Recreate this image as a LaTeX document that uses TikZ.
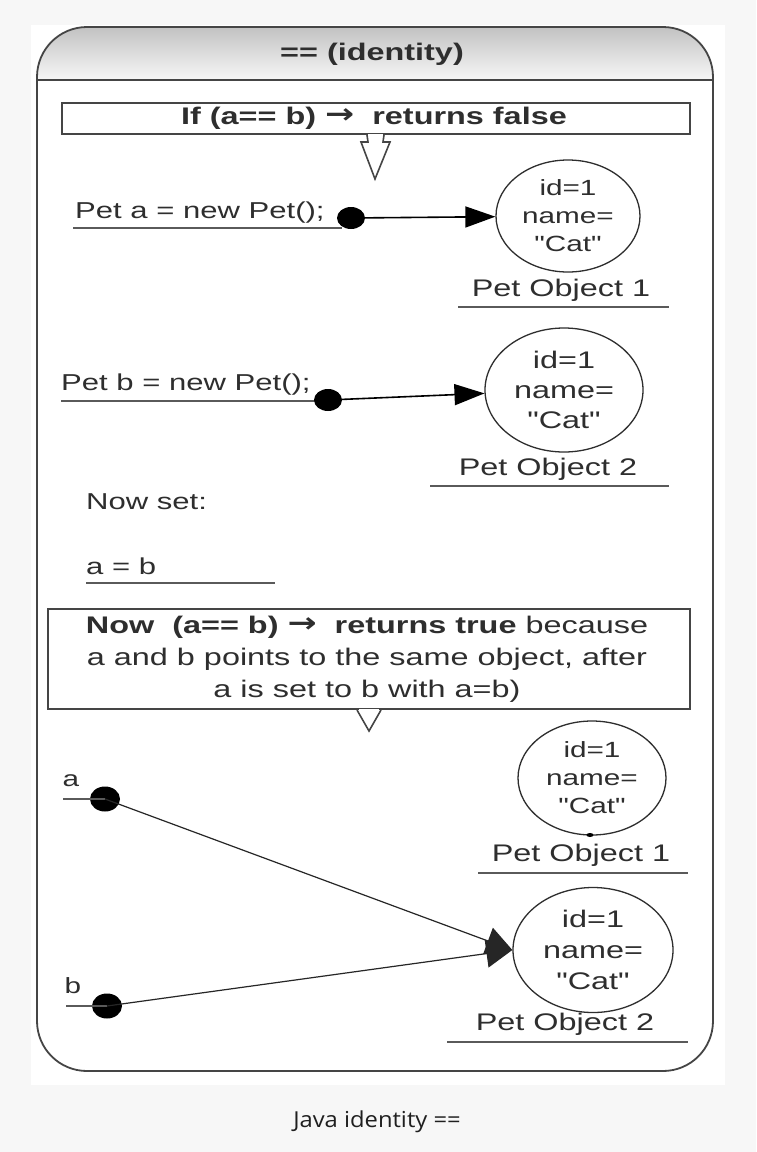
\documentclass[tikz,border=0pt]{standalone}
\usepackage{fontspec}
\setmainfont{Liberation Sans}[FakeStretch=1.35]
\newfontfamily\qfont{Liberation Sans}[FakeStretch=1.35]
\newfontfamily\arrfont{DejaVu Sans}
\newfontfamily\capfont{Open Sans}[FakeStretch=1.08]
\newcommand{\qq}{{\qfont"}}
\newcommand{\rarr}{\raisebox{0.5pt}{\scalebox{1.45}[1.15]{\arrfont\bfseries →}}}
\usetikzlibrary{shapes.geometric,arrows.meta,calc}
\definecolor{pagebg}{HTML}{F7F7F7}
\definecolor{ink}{HTML}{2E2E2E}
\definecolor{frameink}{HTML}{454545}
\definecolor{ulink}{HTML}{5A5A5A}
\begin{document}
\begin{tikzpicture}[x=1pt,y=-1pt,
  txt/.style={font=\fontsize{23}{28}\selectfont, text=ink, inner sep=0},
  btxt/.style={font=\bfseries\fontsize{24}{29}\selectfont, text=ink, inner sep=0},
  obj/.style={ellipse, draw=ink, line width=1.3, align=center, inner sep=0, font=\fontsize{23}{29}\selectfont, text=ink},
  objs/.style={obj, font=\fontsize{22}{28}\selectfont},
  dotnode/.style={ellipse, fill=black, minimum width=28, minimum height=22, inner sep=0},
  uline/.style={draw=ulink, line width=2.5},
  ptr/.style={-{Triangle[length=30pt,width=21pt]}, line width=1.6, draw=black},
  thinptr/.style={-{Triangle[length=26pt,width=28pt]}, line width=1.2, draw=black!85},
  boxnode/.style={draw=frameink, line width=2, fill=white, inner sep=0},
  pointer/.style={draw=frameink, line width=1.6, fill=white, line join=miter}
]
\fill[pagebg] (0,0) rectangle (756,1152);
\useasboundingbox (0,0) rectangle (756,1152);
\fill[white] (31,25) rectangle (725,1085);
% header shading
\begin{scope}
  \clip[rounded corners=50] (37,27) rectangle (713,1071);
  \shade[top color=black!24, bottom color=black!3] (37,27) rectangle (713,80);
\end{scope}
\draw[frameink, line width=1.8, rounded corners=50] (37,27) rectangle (713,1071);
\draw[frameink, line width=1.8] (37,80) -- (713,80);
\node[btxt] (title) at (372,54) {== (identity)};

% box 1
\node[boxnode, minimum width=628, minimum height=31] (b1) at (376,118.5) {};
\node[btxt] (b1t) at (374,118) {If (a== b) \rarr\ \ returns false};
\draw[pointer] ($(b1.south)+(-9,0)$) -- ($(b1.south)+(-8,7)$) -- ($(b1.south)+(-15,7)$) -- ($(b1.south)+(-1,44)$) -- ($(b1.south)+(14,7)$) -- ($(b1.south)+(7,7)$) -- ($(b1.south)+(8,0)$);
\draw[white, line width=2.4] ($(b1.south)+(-8,0)$) -- ($(b1.south)+(7,0)$);

% row 1
\node[txt, anchor=west] (pa) at (75,213) {Pet a = new Pet();};
\draw[uline] (73,228) -- (342,228);
\node[objs, minimum width=144, minimum height=112] (c1) at (568,216) {id=1\\name=\\\qq Cat\qq};
\node[dotnode] (da) at (351,218) {};
\draw[ptr] (da.center) -- (c1);
\node[txt, font=\fontsize{24}{29}\selectfont] (l1) at (561,290) {Pet Object 1};
\draw[uline] (458,307) -- (669,307);

% row 2
\node[txt, anchor=west] (pb) at (61,385) {Pet b = new Pet();};
\draw[uline] (61,401) -- (338,401);
\node[obj, font=\fontsize{24}{30}\selectfont, minimum width=158, minimum height=124] (c2) at (564,390) {id=1\\name=\\\qq Cat\qq};
\node[dotnode] (db) at (328,400) {};
\draw[ptr] (db.center) -- (c2);
\node[txt, font=\fontsize{24}{29}\selectfont] (l2) at (548,469) {Pet Object 2};
\draw[uline] (430,486) -- (669,486);

% now set
\node[txt, anchor=west] (ns) at (86,502) {Now set:};
\node[txt, anchor=west] (ab) at (86,566) {a = b};
\draw[uline] (86,583) -- (275,583);

% box 2
\node[boxnode, minimum width=642, minimum height=100] (b2) at (369,659) {};
\node[txt, align=center, font=\fontsize{24}{32}\selectfont] (b2t) at (367,659)
  {\textbf{Now\ \ (a== b) \rarr\ \ returns true} because\\a and b points to the same object, after\\a is set to b with a=b)};
\draw[pointer] ($(b2.south)+(-12,0)$) -- ($(b2.south)+(0,21)$) -- ($(b2.south)+(12,0)$);
\draw[white, line width=2.4] ($(b2.south)+(-10,0)$) -- ($(b2.south)+(10,0)$);

% bottom section
\node[objs, minimum width=148, minimum height=114] (c3) at (592,778) {id=1\\name=\\\qq Cat\qq};
\node[ellipse, fill=black, minimum width=7, minimum height=4, inner sep=0] (c3dot) at (590,835) {};
\node[txt, font=\fontsize{24}{29}\selectfont] (l3) at (581,855) {Pet Object 1};
\draw[uline] (478,873) -- (688,873);

\node[obj, font=\fontsize{24}{31}\selectfont, minimum width=160, minimum height=125] (c4) at (593,950) {id=1\\name=\\\qq Cat\qq};
\node[txt, font=\fontsize{24}{29}\selectfont] (l4) at (565,1024) {Pet Object 2};
\draw[uline] (447,1042) -- (688,1042);

\node[txt, font=\fontsize{22}{26}\selectfont] (la) at (71,781) {a};
\coordinate (sa) at (63,799);
\node[dotnode, minimum width=30, minimum height=25] (dA) at (105,799) {};
\draw[draw=ulink, line width=2] (sa) -- (dA.center);
\node[txt, font=\fontsize{22}{26}\selectfont] (lb) at (73,986) {b};
\coordinate (sb) at (66,1006);
\node[dotnode, minimum width=30, minimum height=25] (dB) at (107,1006) {};
\draw[draw=ulink, line width=2] (sb) -- (dB.center);
\draw[thinptr] (dA.center) -- (c4.west);
\draw[thinptr] (dB.center) -- (c4.west);

% caption
\node[font=\capfont\fontsize{22}{26}\selectfont, text=black!88, inner sep=0] (cap) at (377,1122) {Java identity ==};
\end{tikzpicture}
\end{document}
